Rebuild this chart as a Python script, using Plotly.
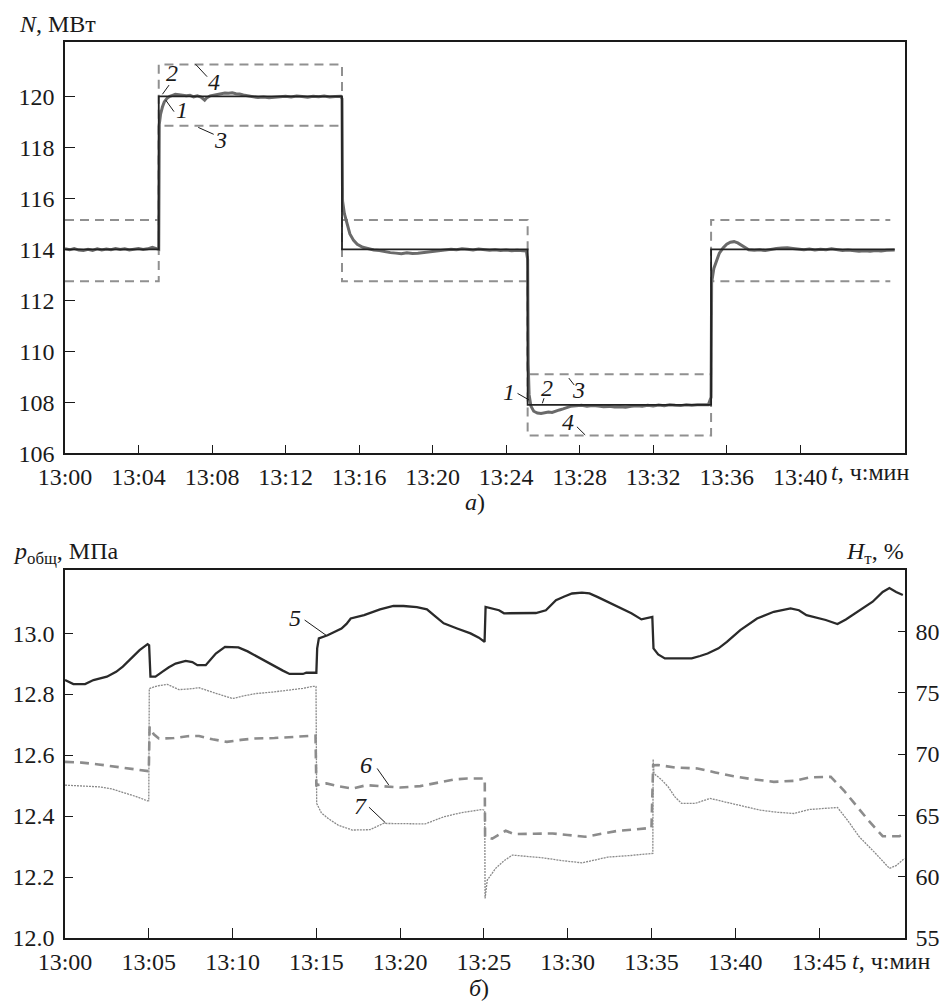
import plotly.graph_objects as go

# ---------------- data: top chart (a) ----------------
# time in minutes after 13:00
t_set = [0, 5.1, 15.07, 25.17, 35.15, 45.14]
n_set = [114, 120, 114, 107.9, 114, 114]           # curve 2, setpoint

t_bound = [0, 5.1, 15.07, 25.17, 35.15, 44.9]
n_upper = [115.15, 121.25, 115.15, 109.1, 115.15, 115.15]   # curve 4
n_lower = [112.75, 118.85, 112.75, 106.7, 112.75, 112.75]   # curve 3

t1 = [0, 0.25, 0.5, 0.75, 1.0, 1.25, 1.5, 1.75, 2.0, 2.25, 2.5, 2.75, 3.0, 3.25, 3.5, 3.75,
      4.0, 4.25, 4.5, 4.75, 5.0, 5.1, 5.13, 5.2, 5.3, 5.4, 5.55, 5.7, 5.85, 6.0, 6.2, 6.4,
      6.6, 6.8, 7.0, 7.2, 7.4, 7.6, 7.7, 7.9, 8.1, 8.3, 8.5, 8.7, 8.9, 9.1, 9.3, 9.5, 9.7,
      9.9, 10.1, 10.3, 10.5, 10.8, 11.1, 11.4, 11.7, 12.0, 12.3, 12.6, 12.9, 13.2, 13.5,
      13.8, 14.1, 14.4, 14.7, 15.0, 15.07, 15.1, 15.2, 15.35, 15.5, 15.7, 15.9, 16.2, 16.5,
      16.8, 17.1, 17.4, 17.7, 18.0, 18.3, 18.6, 18.9, 19.2, 19.5, 19.8, 20.1, 20.4, 20.7,
      21.0, 21.3, 21.6, 21.9, 22.2, 22.5, 22.8, 23.1, 23.4, 23.7, 24.0, 24.3, 24.6, 24.9,
      25.1, 25.17, 25.2, 25.25, 25.35, 25.5, 25.7, 25.9, 26.1, 26.3, 26.5, 26.7, 26.9, 27.1,
      27.3, 27.5, 27.8, 28.1, 28.4, 28.7, 29.0, 29.3, 29.6, 29.9, 30.2, 30.5, 30.8, 31.1,
      31.4, 31.7, 32.0, 32.3, 32.6, 32.9, 33.2, 33.5, 33.8, 34.1, 34.4, 34.7, 35.0, 35.15,
      35.18, 35.3, 35.45, 35.6, 35.8, 36.0, 36.2, 36.4, 36.6, 36.8, 37.0, 37.2, 37.5, 37.8,
      38.1, 38.4, 38.7, 39.0, 39.3, 39.6, 39.9, 40.2, 40.5, 40.8, 41.1, 41.4, 41.7, 42.0,
      42.3, 42.6, 42.9, 43.2, 43.5, 43.8, 44.1, 44.4, 44.7, 45.0, 45.14]
n1 = [114.02, 113.98, 114.03, 113.97, 113.95, 114.0, 113.96, 114.02, 113.97, 114.01, 113.98,
      114.03, 113.99, 114.02, 113.97, 114.0, 114.03, 113.99, 114.02, 114.08, 114.02, 114.0,
      118.9, 119.3, 119.58, 119.78, 119.92, 120.0, 120.04, 120.08, 120.06, 120.03, 120.02,
      120.04, 119.98, 120.02, 119.97, 119.85, 119.93, 120.02, 120.05, 120.08, 120.11, 120.13,
      120.12, 120.14, 120.1, 120.09, 120.05, 120.02, 119.98, 119.97, 119.95, 119.97, 119.94,
      119.96, 119.98, 120.0, 119.97, 120.01, 119.99, 119.96, 120.0, 119.98, 120.01, 119.97,
      119.99, 120.0, 119.9, 115.9, 115.4, 114.95, 114.6, 114.35, 114.2, 114.08, 114.02,
      113.97, 113.95, 113.9, 113.87, 113.85, 113.83, 113.86, 113.84, 113.85, 113.88, 113.9,
      113.93, 113.96, 113.98, 114.0, 113.98, 114.02, 114.0, 113.97, 114.01, 113.99, 113.96,
      113.98, 113.95, 113.97, 113.94, 113.96, 113.94, 113.93, 113.6, 109.5, 108.3, 107.85,
      107.65, 107.58, 107.56, 107.6, 107.62, 107.6, 107.66, 107.7, 107.74, 107.8, 107.84,
      107.86, 107.88, 107.85, 107.87, 107.85, 107.83, 107.84, 107.82, 107.83, 107.81, 107.84,
      107.86, 107.85, 107.88, 107.86, 107.89, 107.87, 107.9, 107.88, 107.87, 107.9, 107.88,
      107.9, 107.89, 107.9, 108.2, 112.7, 113.25, 113.6, 113.85, 114.05, 114.2, 114.28,
      114.3, 114.25, 114.15, 114.05, 113.98, 113.96, 113.98, 113.95, 114.0, 114.03, 114.05,
      114.06, 114.03, 114.0, 113.98, 114.01, 113.97, 114.0, 113.98, 114.02, 113.97, 113.95,
      113.97, 113.94, 113.92, 113.94, 113.92, 113.95, 113.93, 113.96, 113.95, 113.97]

top_tickvals = [0, 4, 8, 12, 16, 20, 24, 28, 32, 36, 40]
top_ticktext = ["13:00", "13:04", "13:08", "13:12", "13:16", "13:20",
                "13:24", "13:28", "13:32", "13:36", "13:40"]
top_yticks = [106, 108, 110, 112, 114, 116, 118, 120]

# ---------------- data: bottom chart (б) ----------------
t5 = [0, 0.5, 1.2, 1.7, 2.5, 3.05, 3.45, 3.85, 4.15, 4.45, 4.93, 5.02, 5.1, 5.4, 5.8, 6.2,
      6.6, 7.2, 7.6, 7.9, 8.4, 8.7, 9.0, 9.55, 10.35, 10.9, 11.5, 12.0, 12.5, 13.0, 13.4,
      14.2, 14.4, 15.0, 15.05, 15.15, 15.67, 16.1, 16.5, 16.8, 17.05, 17.85, 18.3, 18.8,
      19.6, 20.2, 21.0, 21.6, 22.1, 22.6, 23.4, 24.2, 24.7, 25.04, 25.1, 25.5, 25.9, 26.2,
      27.1, 28.1, 28.7, 29.3, 29.8, 30.26, 30.85, 31.3, 31.8, 32.3, 32.8, 33.3, 33.8, 34.4,
      35.05, 35.12, 35.4, 35.8, 37.4, 37.9, 38.35, 39.0, 39.5, 40.3, 41.3, 42.3, 43.3, 43.8,
      44.25, 45.4, 46.1, 46.6, 47.0, 47.6, 48.2, 48.8, 49.2, 49.6, 50.0]
p5 = [12.846, 12.833, 12.833, 12.846, 12.857, 12.873, 12.89, 12.911, 12.93, 12.944, 12.964,
      12.96, 12.857, 12.857, 12.873, 12.888, 12.90, 12.909, 12.905, 12.895, 12.895, 12.915,
      12.933, 12.955, 12.953, 12.94, 12.922, 12.905, 12.89, 12.877, 12.866, 12.866, 12.87,
      12.87, 12.95, 12.983, 12.993, 13.005, 13.015, 13.03, 13.048, 13.059, 13.068, 13.078,
      13.089, 13.089, 13.085, 13.078, 13.055, 13.032, 13.015, 12.999, 12.985, 12.971, 13.086,
      13.08, 13.075, 13.065, 13.066, 13.066, 13.075, 13.108, 13.12, 13.13, 13.133, 13.13,
      13.118, 13.105, 13.09, 13.078, 13.065, 13.045, 13.053, 12.95, 12.93, 12.917, 12.917,
      12.925, 12.933, 12.95, 12.971, 13.01, 13.048, 13.07, 13.081, 13.075, 13.059, 13.043,
      13.03, 13.045, 13.059, 13.08, 13.103, 13.135, 13.148, 13.135, 13.125]

t6 = [0, 1.0, 2.0, 3.0, 4.0, 4.93, 5.0, 5.05, 5.3, 5.6, 6.5, 7.3, 8.0, 8.8, 9.66, 10.5, 11.3,
      12.5, 13.5, 14.8, 14.95, 15.0, 15.6, 16.4, 17.15, 18.0, 19.2, 20.0, 21.2, 22.2, 23.2,
      24.0, 24.9, 25.05, 25.07, 25.5, 26.3, 26.8, 28.0, 29.1, 30.0, 31.05, 32.0, 33.0, 34.0,
      35.0, 35.1, 35.4, 36.4, 37.75, 38.8, 39.9, 41.0, 42.3, 43.5, 44.45, 45.7, 46.5, 47.2,
      48.0, 48.8, 49.8, 50.1]
h6 = [69.36, 69.3, 69.15, 68.95, 68.78, 68.62, 68.6, 72.2, 71.6, 71.26, 71.3, 71.45, 71.47,
      71.2, 70.99, 71.15, 71.26, 71.3, 71.4, 71.53, 71.5, 67.46, 67.6, 67.35, 67.19, 67.46,
      67.38, 67.27, 67.38, 67.65, 67.92, 68.0, 68.05, 68.0, 63.25, 63.1, 63.74, 63.47, 63.5,
      63.52, 63.4, 63.25, 63.5, 63.74, 63.85, 63.98, 69.09, 69.1, 68.9, 68.82, 68.5, 68.19,
      67.95, 67.73, 67.81, 68.09, 68.14, 67.0, 65.83, 64.5, 63.3, 63.3, 63.47]

t7 = [0, 1.0, 2.07, 2.8, 3.4, 4.2, 4.93, 5.0, 5.03, 5.5, 6.1, 6.8, 7.4, 8.0, 9.0, 10.0, 10.7,
      11.4, 12.4, 13.35, 14.2, 14.8, 14.98, 15.02, 15.3, 15.7, 16.3, 17.15, 18.2, 19.0, 20.2,
      21.5, 22.6, 23.6, 24.9, 25.05, 25.07, 25.2, 25.7, 26.2, 26.7, 27.5, 28.5, 29.7, 30.85,
      31.6, 32.4, 33.7, 35.0, 35.08, 35.1, 35.15, 35.6, 36.0, 36.4, 36.8, 37.6, 38.5, 39.2,
      39.9, 41.5, 42.5, 43.5, 44.45, 45.3, 46.1, 46.7, 47.4, 48.3, 49.2, 49.6, 50.1]
h7 = [67.46, 67.4, 67.32, 67.15, 66.91, 66.55, 66.18, 66.2, 75.33, 75.55, 75.68, 75.25, 75.3,
      75.4, 74.95, 74.52, 74.75, 74.93, 75.05, 75.2, 75.35, 75.52, 75.5, 65.97, 65.2, 64.75,
      64.2, 63.8, 63.83, 64.34, 64.3, 64.3, 64.88, 65.2, 65.48, 65.4, 58.23, 59.72, 60.68,
      61.3, 61.76, 61.65, 61.54, 61.3, 61.13, 61.35, 61.6, 61.72, 61.84, 61.9, 69.58, 68.41,
      67.9, 67.32, 66.5, 65.97, 65.97, 66.38, 66.15, 65.91, 65.42, 65.25, 65.15, 65.48, 65.55,
      65.64, 64.6, 63.25, 62.0, 60.68, 60.9, 61.49]

bot_tickvals = [0, 5, 10, 15, 20, 25, 30, 35, 40, 45]
bot_ticktext = ["13:00", "13:05", "13:10", "13:15", "13:20", "13:25",
                "13:30", "13:35", "13:40", "13:45"]
p_ticks = [12.0, 12.2, 12.4, 12.6, 12.8, 13.0]
h_ticks = [55, 60, 65, 70, 75, 80]

# ---------------- figure ----------------
W, H = 952, 1005
ML, MR, MT, MB = 58, 46, 42, 67
FONT = "Liberation Serif, Times New Roman, DejaVu Serif, serif"
TICKF = dict(family=FONT, size=24, color="#1a1a1a")


def px(x, y):
    """pixel position -> paper coordinates"""
    return (x - ML) / (W - ML - MR), (H - MB - y) / (H - MT - MB)


fig = go.Figure()

# top chart
fig.add_trace(go.Scatter(x=t_bound, y=n_upper, mode="lines", line_shape="hv",
                         line=dict(color="#909090", width=2, dash="9px,6px"),
                         xaxis="x", yaxis="y"))
fig.add_trace(go.Scatter(x=t_bound, y=n_lower, mode="lines", line_shape="hv",
                         line=dict(color="#909090", width=2, dash="9px,6px"),
                         xaxis="x", yaxis="y"))
fig.add_trace(go.Scatter(x=t1, y=n1, mode="lines",
                         line=dict(color="#6a6a6a", width=3),
                         xaxis="x", yaxis="y"))
fig.add_trace(go.Scatter(x=t_set, y=n_set, mode="lines", line_shape="hv",
                         line=dict(color="#222222", width=1.8),
                         xaxis="x", yaxis="y"))

# bottom chart
fig.add_trace(go.Scatter(x=t7, y=h7, mode="lines",
                         line=dict(color="#8a8a8a", width=1.3, dash="2px,1px"),
                         xaxis="x2", yaxis="y3"))
fig.add_trace(go.Scatter(x=t6, y=h6, mode="lines",
                         line=dict(color="#8c8c8c", width=2.6, dash="9px,6px"),
                         xaxis="x2", yaxis="y3"))
fig.add_trace(go.Scatter(x=t5, y=p5, mode="lines",
                         line=dict(color="#2a2a2a", width=2.3),
                         xaxis="x2", yaxis="y2"))

top_dom = [px(0, 453.3)[1], 1]
bot_dom = [0, px(0, 570)[1]]

axis_common = dict(showline=True, linecolor="#1a1a1a", linewidth=1.5, ticks="inside",
                   tickcolor="#1a1a1a", tickwidth=1.3, showgrid=False, zeroline=False,
                   tickfont=TICKF)

fig.update_layout(
    width=W, height=H, showlegend=False,
    margin=dict(l=ML, r=MR, t=MT, b=MB),
    paper_bgcolor="white", plot_bgcolor="white",
    font=dict(family=FONT, color="#1a1a1a"),
    xaxis=dict(domain=[0, 1], anchor="y", range=[0, 45.7], tickvals=top_tickvals,
               ticktext=top_ticktext, ticklen=9, mirror=True, ticklabelstandoff=1,
               **axis_common),
    yaxis=dict(domain=top_dom, anchor="x", range=[106, 122.13], tickvals=top_yticks,
               ticklen=10, mirror=True, ticklabelstandoff=4, **axis_common),
    xaxis2=dict(domain=[0, 1], anchor="y2", range=[0, 50.13], tickvals=bot_tickvals,
                ticktext=bot_ticktext, ticklen=10, mirror=True, ticklabelstandoff=1,
                **axis_common),
    yaxis2=dict(domain=bot_dom, anchor="x2", range=[12.0, 13.207], tickvals=p_ticks,
                tickformat=".1f", ticklen=8, ticklabelstandoff=4, **axis_common),
    yaxis3=dict(overlaying="y2", anchor="x2", side="right", range=[55, 85],
                tickvals=h_ticks, ticklen=7, ticklabelstandoff=4, **axis_common),
)

LBL = dict(family=FONT, size=24, color="#1a1a1a")
ann = []


def paper_text(x, y, text, xanchor="center", size=24):
    X, Y = px(x, y)
    ann.append(dict(x=X, y=Y, xref="paper", yref="paper", text=text, showarrow=False,
                    xanchor=xanchor, yanchor="middle",
                    font=dict(family=FONT, size=size, color="#1a1a1a")))


def data_text(x, y, text, xr, yr):
    ann.append(dict(x=x, y=y, xref=xr, yref=yr, text=text, showarrow=False,
                    xanchor="center", yanchor="middle", font=LBL))


# axis titles and captions
paper_text(10, 24, "<i>N</i>, МВт", xanchor="left")
paper_text(829, 472, "<i>t</i>, ч:мин", xanchor="left")
paper_text(472, 502, "<i>а</i>)")
paper_text(3, 553, "<i>p</i><sub>общ</sub>, МПа", xanchor="left")
paper_text(907, 553, "<i>H</i><sub>т</sub>, %", xanchor="right")
paper_text(850, 961, "<i>t</i>, ч:мин", xanchor="left")
paper_text(476, 988, "<i>б</i>)")

# curve labels (top)
data_text(5.84, 120.9, "<i>2</i>", "x", "y")
data_text(8.09, 120.57, "<i>4</i>", "x", "y")
data_text(6.38, 119.46, "<i>1</i>", "x", "y")
data_text(8.45, 118.29, "<i>3</i>", "x", "y")
data_text(24.17, 108.42, "<i>1</i>", "x", "y")
data_text(26.24, 108.55, "<i>2</i>", "x", "y")
data_text(27.95, 108.48, "<i>3</i>", "x", "y")
data_text(27.37, 107.24, "<i>4</i>", "x", "y")
# curve labels (bottom)
data_text(13.70, 13.048, "<i>5</i>", "x2", "y2")
data_text(17.94, 12.567, "<i>6</i>", "x2", "y2")
data_text(17.65, 12.433, "<i>7</i>", "x2", "y2")

shapes = []


def leader(x0, y0, x1, y1, xr, yr):
    shapes.append(dict(type="line", x0=x0, y0=y0, x1=x1, y1=y1, xref=xr, yref=yr,
                       line=dict(color="#1a1a1a", width=1)))


leader(5.66, 120.44, 5.30, 120.08, "x", "y")
leader(7.10, 121.26, 7.73, 120.77, "x", "y")
leader(5.48, 119.85, 5.93, 119.40, "x", "y")
leader(7.25, 118.78, 8.09, 118.51, "x", "y")
leader(24.62, 108.35, 25.25, 108.09, "x", "y")
leader(26.06, 108.16, 25.97, 107.96, "x", "y")
leader(27.41, 108.95, 27.70, 108.68, "x", "y")
leader(27.85, 107.04, 28.30, 106.72, "x", "y")
leader(14.30, 13.043, 15.58, 12.993, "x2", "y2")
leader(18.63, 12.556, 19.32, 12.502, "x2", "y2")
leader(18.14, 12.429, 19.12, 12.378, "x2", "y2")

fig.update_layout(annotations=ann, shapes=shapes)
fig.write_html("out.html", config={"displayModeBar": False},
               post_script="document.body.style.margin='0';"
                           "document.body.style.overflow='hidden';")
